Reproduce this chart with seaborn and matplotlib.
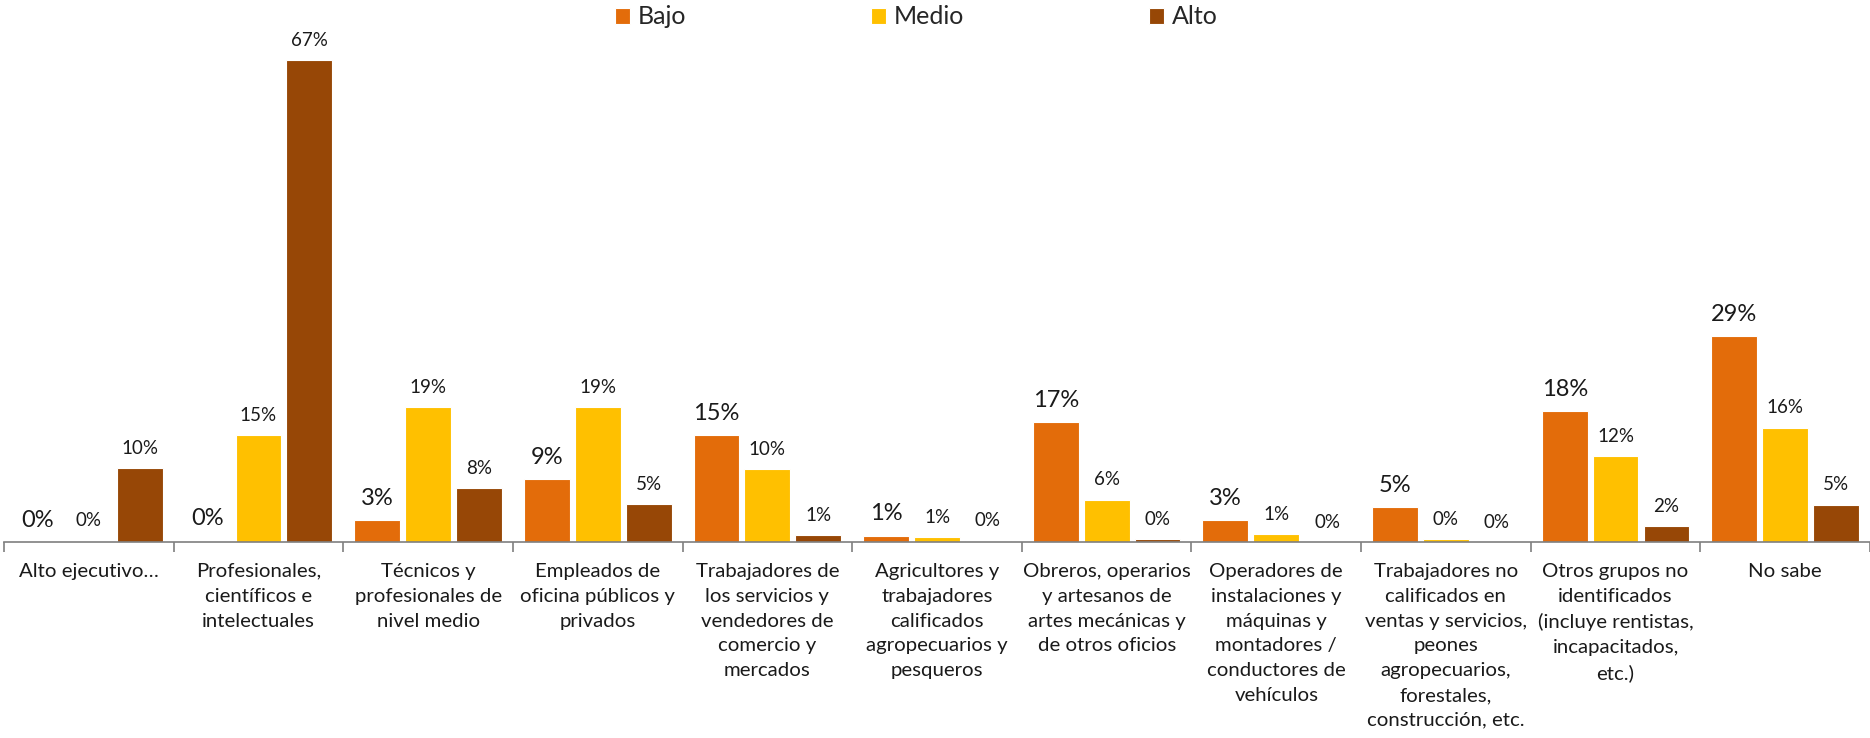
import matplotlib
matplotlib.use("Agg")
import matplotlib.pyplot as plt
import numpy as np
import pandas as pd
import seaborn as sns

# Categories (x axis) as printed under each group
categories = [
    "Alto ejecutivo…",
    "Profesionales,\ncientíficos e\nintelectuales",
    "Técnicos y\nprofesionales de\nnivel medio",
    "Empleados de\noficina públicos y\nprivados",
    "Trabajadores de\nlos servicios y\nvendedores de\ncomercio y\nmercados",
    "Agricultores y\ntrabajadores\ncalificados\nagropecuarios y\npesqueros",
    "Obreros, operarios\ny artesanos de\nartes mecánicas y\nde otros oficios",
    "Operadores de\ninstalaciones y\nmáquinas y\nmontadores /\nconductores de\nvehículos",
    "Trabajadores no\ncalificados en\nventas y servicios,\npeones\nagropecuarios,\nforestales,\nconstrucción, etc.",
    "Otros grupos no\nidentificados\n(incluye rentistas,\nincapacitados,\netc.)",
    "No sabe",
]

levels = ["Bajo", "Medio", "Alto"]

# Percentages
bajo = [0.0, 0.2, 3.0, 8.7, 14.8, 0.9, 16.7, 3.0, 4.9, 18.2, 28.6]
medio = [0.2, 14.9, 18.8, 18.7, 10.1, 0.7, 5.9, 1.1, 0.4, 11.9, 15.9]
alto = [10.3, 67.0, 7.5, 5.3, 1.0, 0.2, 0.4, 0.0, 0.0, 2.2, 5.2]

colors = {"Bajo": "#E36C0A", "Medio": "#FFC000", "Alto": "#974706"}

df = pd.DataFrame({
    "categoria": categories * 3,
    "nivel": ["Bajo"] * len(categories) + ["Medio"] * len(categories) + ["Alto"] * len(categories),
    "valor": bajo + medio + alto,
})

sns.set_style("white")
plt.rcParams["font.family"] = ["Lato", "DejaVu Sans"]

fig = plt.figure(figsize=(18.7, 7.38), dpi=100)
ax = fig.add_axes([4 / 1870, 196 / 738, 1866 / 1870, 511 / 738])

sns.barplot(
    data=df, x="categoria", y="valor", hue="nivel",
    hue_order=levels, order=categories, palette=colors, saturation=1,
    width=0.9, gap=0.1, edgecolor="white", linewidth=0.8,
    ax=ax,
)

ax.set_ylim(0, 71)
ax.set_xlim(-0.5, 10.5)
ax.set_xlabel("")
ax.set_ylabel("")
ax.set_yticks([])

# Value labels: Bajo bigger than the others
for container, lvl in zip(ax.containers, levels):
    size = 17 if lvl == "Bajo" else 13.5
    ax.bar_label(container, fmt="{:.0f}%", padding=8, fontsize=size, color="#1a1a1a")

# Axis styling
for side in ["left", "right", "top"]:
    ax.spines[side].set_visible(False)
ax.spines["bottom"].set_color("#7f7f7f")
ax.spines["bottom"].set_linewidth(1.2)

ax.set_xticks(range(len(categories)))
ax.set_xticklabels(categories, fontsize=14.7, linespacing=1.56, color="#1a1a1a", va="top")
ax.set_xticks(np.arange(-0.5, len(categories), 1), minor=True)
ax.tick_params(axis="x", which="major", length=0, pad=15)
ax.tick_params(axis="x", which="minor", bottom=True, length=7, width=1.2,
               color="#7f7f7f", direction="out")

# Legend along the top
handles, labels = ax.get_legend_handles_labels()
ax.get_legend().remove()
fig.legend(
    handles, labels, loc="center", bbox_to_anchor=(0.49, 0.977),
    ncol=3, frameon=False, fontsize=18, handlelength=0.6, handleheight=0.6,
    handletextpad=0.3, columnspacing=7.4,
)

fig.savefig("out.png", dpi=100)
